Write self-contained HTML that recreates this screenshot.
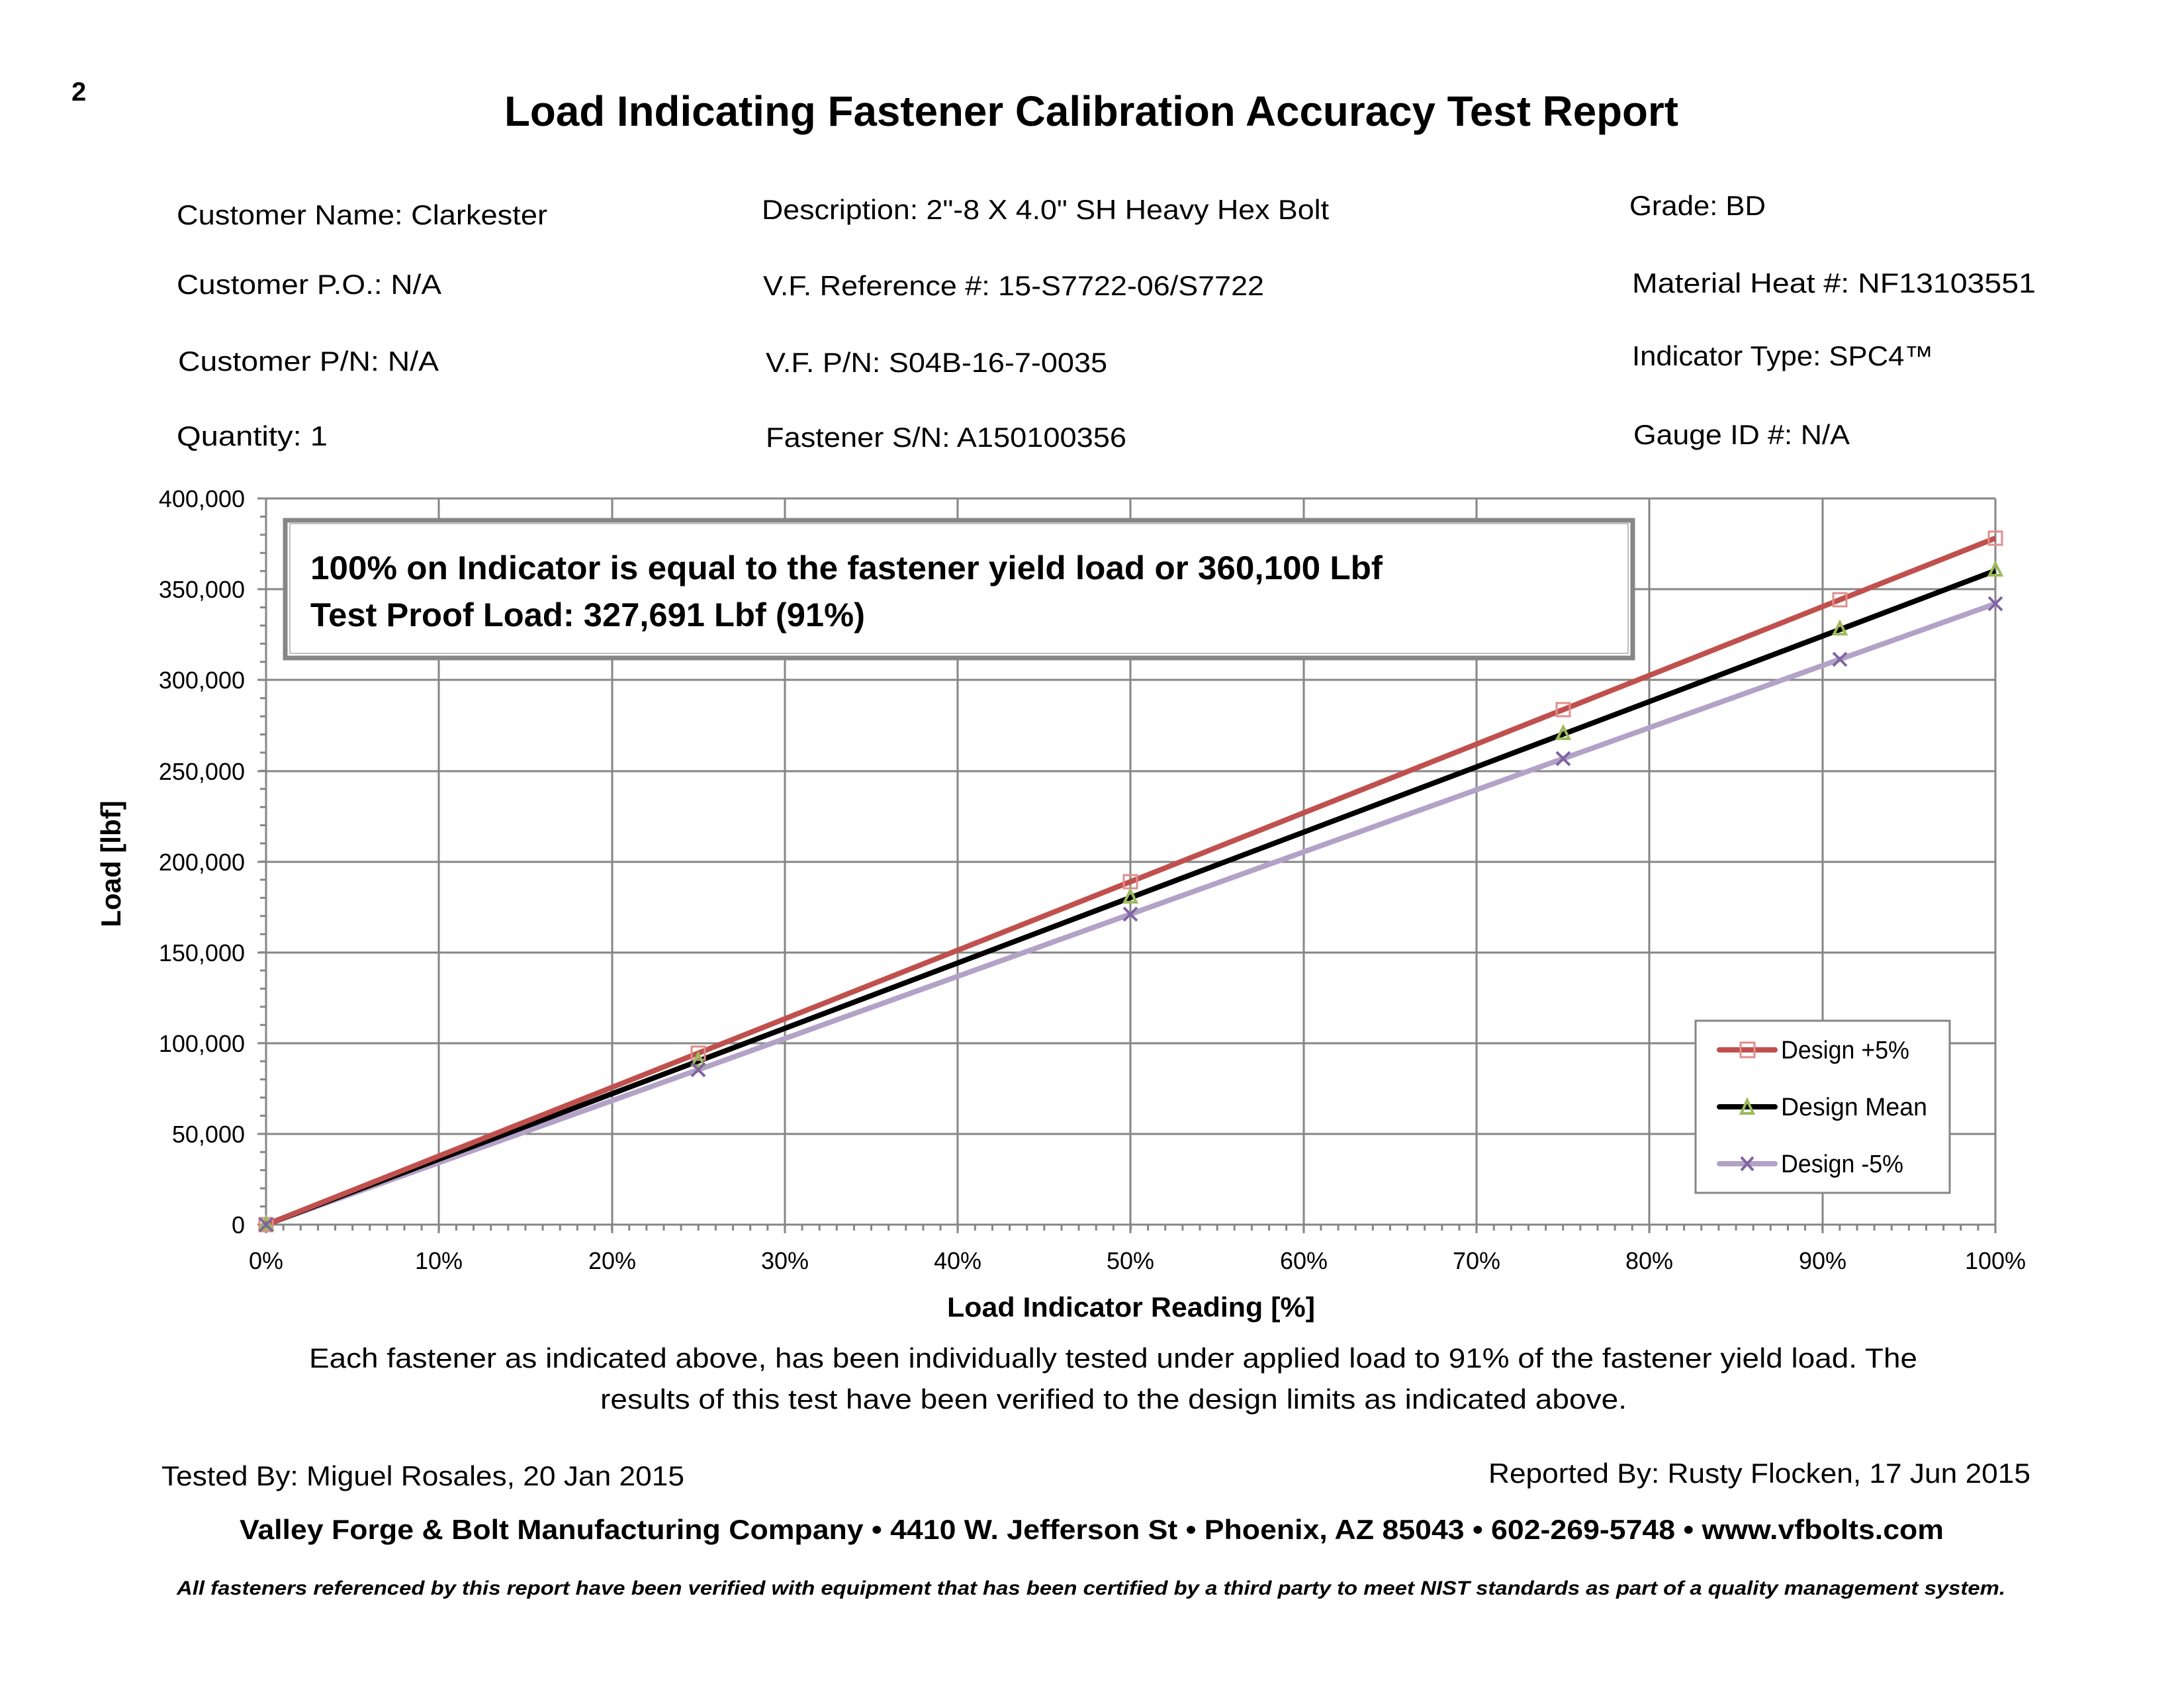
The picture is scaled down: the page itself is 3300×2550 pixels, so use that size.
<!DOCTYPE html>
<html><head><meta charset="utf-8"><style>
html,body{margin:0;padding:0;background:#fff;}
svg{display:block;}
text{font-family:"Liberation Sans",sans-serif;fill:#000;}
</style></head><body>
<svg width="3300" height="2550" viewBox="0 0 3300 2550" xmlns="http://www.w3.org/2000/svg">
<defs>
<pattern id="xt" patternUnits="userSpaceOnUse" x="400.5" y="1850" width="26.13" height="9"><rect x="0" y="0" width="3" height="9" fill="#868686"/></pattern>
<pattern id="yt" patternUnits="userSpaceOnUse" x="393" y="751.5" width="9" height="27.425"><rect x="0" y="0" width="9" height="3" fill="#868686"/></pattern>
</defs>
<rect width="3300" height="2550" fill="#fff"/>
<text x="108" y="152" font-size="40" font-weight="bold">2</text>
<text x="762" y="190" font-size="64" font-weight="bold" textLength="1774" lengthAdjust="spacingAndGlyphs">Load Indicating Fastener Calibration Accuracy Test Report</text>

<g font-size="42">
<text x="267" y="339" textLength="560" lengthAdjust="spacingAndGlyphs">Customer Name: Clarkester</text>
<text x="1151" y="331" textLength="857" lengthAdjust="spacingAndGlyphs">Description: 2"-8 X 4.0" SH Heavy Hex Bolt</text>
<text x="2462" y="325" textLength="206" lengthAdjust="spacingAndGlyphs">Grade: BD</text>

<text x="267" y="444" textLength="400" lengthAdjust="spacingAndGlyphs">Customer P.O.: N/A</text>
<text x="1153" y="446" textLength="757" lengthAdjust="spacingAndGlyphs">V.F. Reference #: 15-S7722-06/S7722</text>
<text x="2466" y="442" textLength="610" lengthAdjust="spacingAndGlyphs">Material Heat #:  NF13103551</text>

<text x="269" y="560" textLength="394" lengthAdjust="spacingAndGlyphs">Customer P/N: N/A</text>
<text x="1157" y="562" textLength="516" lengthAdjust="spacingAndGlyphs">V.F. P/N: S04B-16-7-0035</text>
<text x="2466" y="552" textLength="455" lengthAdjust="spacingAndGlyphs">Indicator Type: SPC4™</text>

<text x="267" y="673" textLength="228" lengthAdjust="spacingAndGlyphs">Quantity: 1</text>
<text x="1157" y="675" textLength="545" lengthAdjust="spacingAndGlyphs">Fastener S/N: A150100356</text>
<text x="2468" y="671" textLength="327" lengthAdjust="spacingAndGlyphs">Gauge ID #: N/A</text>
</g>

<!-- grid -->
<g stroke="#868686" stroke-width="3" fill="none">
<line x1="402" y1="753" x2="3015" y2="753"/>
<line x1="402" y1="890" x2="3015" y2="890"/>
<line x1="402" y1="1027" x2="3015" y2="1027"/>
<line x1="402" y1="1165" x2="3015" y2="1165"/>
<line x1="402" y1="1302" x2="3015" y2="1302"/>
<line x1="402" y1="1439" x2="3015" y2="1439"/>
<line x1="402" y1="1576" x2="3015" y2="1576"/>
<line x1="402" y1="1713" x2="3015" y2="1713"/>
<line x1="402" y1="1850" x2="3015" y2="1850"/>
<line x1="663" y1="753" x2="663" y2="1863"/>
<line x1="925" y1="753" x2="925" y2="1863"/>
<line x1="1186" y1="753" x2="1186" y2="1863"/>
<line x1="1447" y1="753" x2="1447" y2="1863"/>
<line x1="1708" y1="753" x2="1708" y2="1863"/>
<line x1="1970" y1="753" x2="1970" y2="1863"/>
<line x1="2231" y1="753" x2="2231" y2="1863"/>
<line x1="2492" y1="753" x2="2492" y2="1863"/>
<line x1="2754" y1="753" x2="2754" y2="1863"/>
<line x1="3015" y1="753" x2="3015" y2="1863"/>
<line x1="402" y1="753" x2="402" y2="1863"/>
<line x1="389" y1="753" x2="402" y2="753"/>
<line x1="389" y1="890" x2="402" y2="890"/>
<line x1="389" y1="1027" x2="402" y2="1027"/>
<line x1="389" y1="1165" x2="402" y2="1165"/>
<line x1="389" y1="1302" x2="402" y2="1302"/>
<line x1="389" y1="1439" x2="402" y2="1439"/>
<line x1="389" y1="1576" x2="402" y2="1576"/>
<line x1="389" y1="1713" x2="402" y2="1713"/>
<line x1="389" y1="1850" x2="402" y2="1850"/>
</g>
<rect x="400.5" y="1850" width="2617" height="9" fill="url(#xt)"/>
<rect x="393" y="751.5" width="9" height="1101" fill="url(#yt)"/>

<!-- y labels -->
<g font-size="36" text-anchor="end">
<text x="370" y="766">400,000</text>
<text x="370" y="903">350,000</text>
<text x="370" y="1040">300,000</text>
<text x="370" y="1178">250,000</text>
<text x="370" y="1315">200,000</text>
<text x="370" y="1452">150,000</text>
<text x="370" y="1589">100,000</text>
<text x="370" y="1726">50,000</text>
<text x="370" y="1863">0</text>
</g>
<g font-size="36" text-anchor="middle">
<text x="402" y="1917">0%</text>
<text x="663" y="1917">10%</text>
<text x="925" y="1917">20%</text>
<text x="1186" y="1917">30%</text>
<text x="1447" y="1917">40%</text>
<text x="1708" y="1917">50%</text>
<text x="1970" y="1917">60%</text>
<text x="2231" y="1917">70%</text>
<text x="2492" y="1917">80%</text>
<text x="2754" y="1917">90%</text>
<text x="3015" y="1917">100%</text>
</g>
<text transform="translate(182,1305) rotate(-90)" font-size="42" font-weight="bold" text-anchor="middle">Load [lbf]</text>
<text x="1709" y="1989" font-size="42" font-weight="bold" text-anchor="middle" textLength="556" lengthAdjust="spacingAndGlyphs">Load Indicator Reading [%]</text>

<!-- annotation box -->
<rect x="431" y="786" width="2036" height="208" fill="#fff" stroke="#868686" stroke-width="7"/>
<rect x="438" y="791" width="2022" height="196" fill="none" stroke="#aaa" stroke-width="1.5"/>
<text x="469" y="875" font-size="50" font-weight="bold" textLength="1620" lengthAdjust="spacingAndGlyphs">100% on Indicator is equal to the fastener yield load or 360,100 Lbf</text>
<text x="469" y="946" font-size="50" font-weight="bold" textLength="838" lengthAdjust="spacingAndGlyphs">Test Proof Load: 327,691 Lbf (91%)</text>

<!-- series -->
<polyline points="402,1850 1055,1616 1708,1381 2362,1146 2780,996 3015,912" fill="none" stroke="#B3A2C7" stroke-width="8"/>
<polyline points="402,1850 1055,1603 1708,1356 2362,1109 2780,951 3015,862" fill="none" stroke="#000" stroke-width="8"/>
<polyline points="402,1850 1055,1591 1708,1332 2362,1072 2780,906 3015,813" fill="none" stroke="#C0504D" stroke-width="8"/>
<g fill="none" stroke="#E08E8C" stroke-width="3">
<rect x="392" y="1840" width="20" height="20"/><rect x="1045" y="1581" width="20" height="20"/><rect x="1698" y="1322" width="20" height="20"/><rect x="2352" y="1062" width="20" height="20"/><rect x="2770" y="896" width="20" height="20"/><rect x="3005" y="803" width="20" height="20"/>
</g>
<g fill="none" stroke="#9BBB59" stroke-width="4">
<polygon points="402,1839 393,1857 411,1857"/><polygon points="1055,1592 1046,1610 1064,1610"/><polygon points="1708,1345 1699,1363 1717,1363"/><polygon points="2362,1098 2353,1116 2371,1116"/><polygon points="2780,940 2771,958 2789,958"/><polygon points="3015,851 3006,869 3024,869"/>
</g>
<g stroke="#8064A2" stroke-width="4" fill="none">
<path d="M392,1840 L412,1860 M392,1860 L412,1840"/>
<path d="M1045,1606 L1065,1626 M1045,1626 L1065,1606"/>
<path d="M1698,1371 L1718,1391 M1698,1391 L1718,1371"/>
<path d="M2352,1136 L2372,1156 M2352,1156 L2372,1136"/>
<path d="M2770,986 L2790,1006 M2770,1006 L2790,986"/>
<path d="M3005,902 L3025,922 M3005,922 L3025,902"/>
</g>

<!-- legend -->
<rect x="2562" y="1542" width="384" height="260" fill="#fff" stroke="#868686" stroke-width="3"/>
<line x1="2598" y1="1586" x2="2682" y2="1586" stroke="#C0504D" stroke-width="8" stroke-linecap="round"/>
<rect x="2630" y="1575" width="21" height="22" fill="none" stroke="#E08E8C" stroke-width="3"/>
<line x1="2598" y1="1672" x2="2682" y2="1672" stroke="#000" stroke-width="8" stroke-linecap="round"/>
<polygon points="2640,1662 2631,1682 2649,1682" fill="none" stroke="#9BBB59" stroke-width="4"/>
<line x1="2598" y1="1758" x2="2682" y2="1758" stroke="#B3A2C7" stroke-width="8" stroke-linecap="round"/>
<line x1="2631" y1="1748" x2="2649" y2="1768" stroke="#8064A2" stroke-width="4"/>
<line x1="2631" y1="1768" x2="2649" y2="1748" stroke="#8064A2" stroke-width="4"/>
<g font-size="38">
<text x="2691" y="1599" textLength="194" lengthAdjust="spacingAndGlyphs">Design +5%</text>
<text x="2691" y="1685" textLength="221" lengthAdjust="spacingAndGlyphs">Design Mean</text>
<text x="2691" y="1771" textLength="185" lengthAdjust="spacingAndGlyphs">Design -5%</text>
</g>

<!-- footer -->
<g font-size="42">
<text x="467" y="2066" textLength="2430" lengthAdjust="spacingAndGlyphs">Each fastener as  indicated above, has been individually tested under applied load to 91% of the fastener yield load. The</text>
<text x="907" y="2128" textLength="1551" lengthAdjust="spacingAndGlyphs">results of this test have been verified to the design limits as indicated above.</text>
<text x="244" y="2244" textLength="790" lengthAdjust="spacingAndGlyphs">Tested By: Miguel Rosales, 20 Jan 2015</text>
<text x="2249" y="2240" textLength="819" lengthAdjust="spacingAndGlyphs">Reported By: Rusty Flocken, 17 Jun 2015</text>
</g>
<text x="362" y="2325" font-size="42" font-weight="bold" textLength="2575" lengthAdjust="spacingAndGlyphs">Valley Forge &amp; Bolt Manufacturing Company • 4410 W. Jefferson St • Phoenix, AZ 85043 • 602-269-5748 • www.vfbolts.com</text>
<text x="267" y="2409" font-size="30" font-weight="bold" font-style="italic" textLength="2763" lengthAdjust="spacingAndGlyphs">All fasteners referenced by this report have been verified with equipment that has been certified by a third party to meet NIST standards as part of a quality management system.</text>
</svg>
</body></html>
